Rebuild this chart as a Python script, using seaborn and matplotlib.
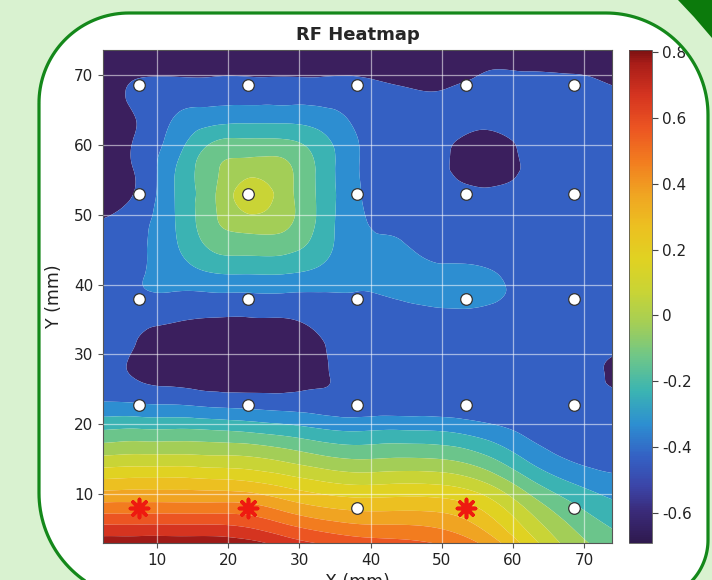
import numpy as np
import pandas as pd
import matplotlib
matplotlib.use("Agg")
import matplotlib.pyplot as plt
import matplotlib.tri as mtri
import seaborn as sns
from matplotlib.colors import LinearSegmentedColormap, Normalize
from matplotlib.cm import ScalarMappable
from matplotlib.path import Path
from matplotlib.patches import PathPatch, Polygon

# RF field (rows = y, cols = x)
x_mm = [2.5, 7.5, 13, 18, 23, 28, 33, 38, 44, 50, 56, 62, 68.5, 74]
y_mm = [2.5, 5, 8, 11.5, 15, 19, 23, 27, 31, 35, 38.5, 42, 46, 49.5, 53,
        56.5, 60, 64, 68.5, 71, 73.5]
rf_level = [
    [0.80, 0.80, 0.80, 0.80, 0.78, 0.70, 0.64, 0.60, 0.57, 0.53, 0.42, 0.20, -0.02, -0.12],
    [0.66, 0.66, 0.66, 0.66, 0.63, 0.56, 0.50, 0.46, 0.45, 0.42, 0.31, 0.11, -0.08, -0.18],
    [0.47, 0.47, 0.47, 0.47, 0.46, 0.39, 0.33, 0.30, 0.30, 0.29, 0.20, 0.01, -0.16, -0.25],
    [0.26, 0.27, 0.27, 0.26, 0.24, 0.19, 0.14, 0.11, 0.12, 0.11, 0.03, -0.14, -0.28, -0.34],
    [0.05, 0.06, 0.06, 0.05, 0.04, 0.00, -0.05, -0.08, -0.07, -0.08, -0.15, -0.29, -0.39, -0.42],
    [-0.17, -0.16, -0.16, -0.17, -0.19, -0.22, -0.26, -0.28, -0.27, -0.28, -0.33, -0.40, -0.44, -0.45],
    [-0.37, -0.38, -0.39, -0.41, -0.42, -0.43, -0.44, -0.45, -0.44, -0.44, -0.45, -0.45, -0.46, -0.46],
    [-0.46, -0.49, -0.53, -0.55, -0.55, -0.53, -0.49, -0.45, -0.44, -0.44, -0.45, -0.46, -0.46, -0.49],
    [-0.45, -0.49, -0.58, -0.61, -0.60, -0.56, -0.49, -0.44, -0.43, -0.43, -0.44, -0.45, -0.46, -0.47],
    [-0.43, -0.45, -0.47, -0.49, -0.49, -0.485, -0.45, -0.43, -0.42, -0.41, -0.42, -0.44, -0.45, -0.45],
    [-0.44, -0.39, -0.39, -0.39, -0.39, -0.39, -0.39, -0.385, -0.37, -0.35, -0.35, -0.42, -0.45, -0.45],
    [-0.45, -0.39, -0.324, -0.266, -0.259, -0.261, -0.30, -0.36, -0.36, -0.36, -0.37, -0.43, -0.45, -0.45],
    [-0.46, -0.40, -0.276, -0.146, -0.12, -0.128, -0.226, -0.35, -0.375, -0.43, -0.43, -0.44, -0.44, -0.44],
    [-0.48, -0.42, -0.264, -0.094, -0.003, -0.047, -0.206, -0.36, -0.41, -0.44, -0.44, -0.44, -0.44, -0.44],
    [-0.52, -0.46, -0.26, -0.09, 0.07, -0.037, -0.205, -0.365, -0.43, -0.45, -0.45, -0.45, -0.44, -0.44],
    [-0.53, -0.46, -0.264, -0.098, -0.023, -0.056, -0.208, -0.37, -0.44, -0.46, -0.56, -0.46, -0.44, -0.44],
    [-0.53, -0.46, -0.31, -0.161, -0.14, -0.146, -0.234, -0.37, -0.44, -0.45, -0.55, -0.45, -0.44, -0.44],
    [-0.54, -0.47, -0.37, -0.33, -0.32, -0.32, -0.34, -0.40, -0.44, -0.45, -0.43, -0.45, -0.44, -0.45],
    [-0.55, -0.46, -0.45, -0.45, -0.45, -0.45, -0.45, -0.45, -0.48, -0.49, -0.45, -0.45, -0.45, -0.48],
    [-0.58, -0.52, -0.51, -0.51, -0.51, -0.51, -0.51, -0.51, -0.53, -0.54, -0.49, -0.49, -0.50, -0.53],
    [-0.62, -0.58, -0.56, -0.56, -0.56, -0.56, -0.56, -0.56, -0.58, -0.58, -0.55, -0.55, -0.56, -0.58],
]

# sensor grid and the three active (red) sensors
sensor_x = [7.5, 22.8, 38.1, 53.4, 68.6]
sensor_y = [8.0, 22.8, 38.0, 53.0, 68.6]
hot_x = [7.5, 22.8, 53.4]
hot_y = [8.0, 8.0, 8.0]

x_ticks = [10, 20, 30, 40, 50, 60, 70]
y_ticks = [10, 20, 30, 40, 50, 60, 70]
cbar_ticks = [-0.6, -0.4, -0.2, 0, 0.2, 0.4, 0.6, 0.8]
cbar_labels = ["-0.6", "-0.4", "-0.2", "0", "0.2", "0.4", "0.6", "0.8"]

sns.set_style("white")
plt.rcParams["font.family"] = ["DejaVu Sans"]

W, H = 712, 580
fig = plt.figure(figsize=(W / 100, H / 100), dpi=100)
fig.patch.set_facecolor("white")
ax = fig.add_axes([103 / W, 1 - 543 / H, 509 / W, 493 / H])
cax = fig.add_axes([629 / W, 1 - 543 / H, 23 / W, 493 / H])

# colour scale
vmin, vmax = -0.69, 0.805
anchors = [(-0.69, "#2f1a4f"), (-0.60, "#3a2a78"), (-0.52, "#3b45a8"), (-0.43, "#3461c4"),
           (-0.33, "#2d8fd1"), (-0.23, "#3bb4b2"), (-0.13, "#6cc68a"), (-0.03, "#a2ce58"),
           (0.07, "#c8d436"), (0.17, "#e0d222"), (0.27, "#ecc021"), (0.37, "#f0a422"),
           (0.47, "#f27c1f"), (0.57, "#ec5522"), (0.67, "#d53420"), (0.77, "#a61c18"),
           (0.805, "#7c1212")]
cmap = LinearSegmentedColormap.from_list(
    "rf", [((v - vmin) / (vmax - vmin), c) for v, c in anchors])
cmap.set_under("#3b1f5e")
cmap.set_over("#7c1212")
norm = Normalize(vmin=vmin, vmax=vmax)
levels = np.round(np.arange(-0.48, 0.83, 0.1), 2)

# smooth the read grid with matplotlib's cubic tri interpolator before contouring
X, Y = np.meshgrid(x_mm, y_mm)
Z = np.array(rf_level)
tri = mtri.Triangulation(X.ravel(), Y.ravel())
interp = mtri.CubicTriInterpolator(tri, Z.ravel(), kind="min_E")
tri_f, z_f = mtri.UniformTriRefiner(tri).refine_field(Z.ravel(), triinterpolator=interp,
                                                        subdiv=4)
ax.tricontourf(tri_f, z_f, levels=levels, cmap=cmap, norm=norm, extend="both",
               antialiased=True)

# sensors
pts = pd.DataFrame([(x, y) for y in sensor_y for x in sensor_x], columns=["x", "y"])
hot = set(zip(hot_x, hot_y))
pts["hot"] = [(x, y) in hot for x, y in zip(pts.x, pts.y)]
sns.scatterplot(data=pts[~pts.hot], x="x", y="y", color="white", edgecolor="#333333",
                linewidth=0.9, s=70, ax=ax, zorder=4, legend=False)
sns.scatterplot(data=pts[pts.hot], x="x", y="y", color="#ee1a10", marker=(8, 2, 0),
                edgecolor=None, linewidth=2.6, s=170, ax=ax, zorder=4, legend=False)

ax.set_xlim(2.4, 73.9)
ax.set_ylim(3.0, 73.6)
ax.set_xticks(x_ticks)
ax.set_yticks(y_ticks)
ax.grid(True, color="white", alpha=0.55, linewidth=0.9)
ax.set_axisbelow(False)
ax.tick_params(bottom=True, left=True, length=3.5, width=0.8, color="#555555",
               labelsize=11, labelcolor="#222222")
for sp in ax.spines.values():
    sp.set_color("#555555")
    sp.set_linewidth(0.8)
ax.set_title("RF Heatmap", fontsize=13, fontweight="bold", pad=7)
ax.set_xlabel("X (mm)", fontsize=12.5, color="#222222")
ax.set_ylabel("Y (mm)", fontsize=12.5, color="#222222", labelpad=8)

cb = fig.colorbar(ScalarMappable(norm=norm, cmap=cmap), cax=cax)
cb.set_ticks(cbar_ticks)
cb.set_ticklabels(cbar_labels)
cax.tick_params(right=True, length=4, width=0.8, color="#444444", labelsize=11,
                labelcolor="#222222")
cb.outline.set_linewidth(0.6)
cb.outline.set_edgecolor("#555555")

# rounded green card frame drawn on top
ov = fig.add_axes([0, 0, 1, 1], zorder=10)
ov.set_xlim(0, W)
ov.set_ylim(H, 0)
ov.axis("off")
ov.patch.set_alpha(0)


def corner(cx, cy, r, a0, a1):
    t = np.linspace(a0, a1, 40)
    return np.column_stack([cx + r * np.cos(t), cy + r * np.sin(t)])


def ring(pts):
    # closed=True drops the last vertex, so repeat the first one
    return Path(np.vstack([pts, pts[:1]]), closed=True)


L, T, R, B = 39, 13, 708, 600
inner = np.vstack([
    corner(L + 90, T + 90, 90, np.pi, 1.5 * np.pi),
    corner(R - 102, T + 102, 102, 1.5 * np.pi, 2 * np.pi),
    corner(R - 60, B - 60, 60, 0, 0.5 * np.pi),
    corner(L + 107, B - 107, 107, 0.5 * np.pi, np.pi),
])
outer = np.array([[-5, -5], [-5, H + 5], [W + 5, H + 5], [W + 5, -5]])
bg = Path.make_compound_path(ring(outer), ring(inner))
ov.add_patch(PathPatch(bg, facecolor="#d9f2d0", edgecolor="none"))
ov.add_patch(PathPatch(ring(inner), fill=False, edgecolor="#14881a", lw=2.3))
ov.add_patch(Polygon([(678, 0), (712, 0), (712, 38), (694, 17)], closed=True,
                     facecolor="#0c7a0c", edgecolor="none"))

fig.savefig("out.png", dpi=100)
